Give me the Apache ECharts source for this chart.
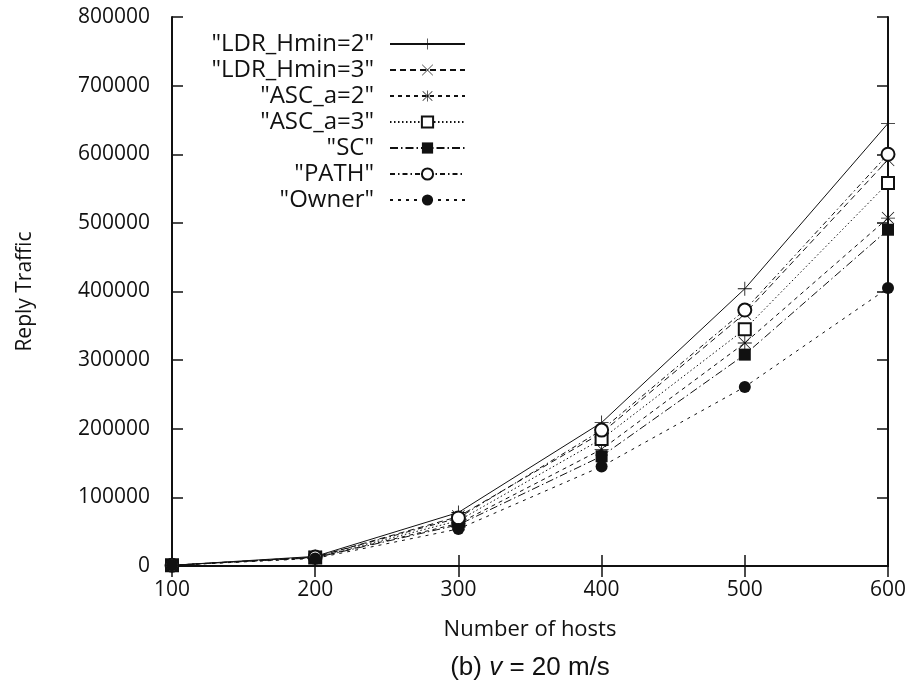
<!DOCTYPE html>
<html>
<head>
<meta charset="utf-8">
<script src="https://cdn.jsdelivr.net/npm/echarts@6/dist/echarts.min.js"></script>
<style>html,body{margin:0;padding:0;background:#fff}#c{width:911px;height:693px}</style>
</head>
<body>
<div id="c"></div>
<script>
const hosts = [100, 200, 300, 400, 500, 600];
const ldrH2 = [1000, 14000, 78000, 209000, 404000, 645000];
const ldrH3 = [1000, 13000, 72000, 194000, 368000, 592000];
const ascA2 = [1000, 12000, 62000, 170000, 325000, 507000];
const ascA3 = [1000, 12500, 66000, 185000, 345000, 558000];
const sc = [1000, 12000, 60000, 160000, 308000, 490000];
const path = [1000, 13000, 70000, 198000, 373000, 600000];
const owner = [1000, 11000, 54000, 145000, 261000, 405000];
const seriesNames = ['"LDR_Hmin=2"', '"LDR_Hmin=3"', '"ASC_a=2"', '"ASC_a=3"', '"SC"', '"PATH"', '"Owner"'];
const yTicks = [0, 100000, 200000, 300000, 400000, 500000, 600000, 700000, 800000];

const PLUS = 'path://M9.4,0 L10.6,0 L10.6,9.4 L20,9.4 L20,10.6 L10.6,10.6 L10.6,20 L9.4,20 L9.4,10.6 L0,10.6 L0,9.4 L9.4,9.4 Z';
const CROSS = 'path://M0.8,0 L10,9.2 L19.2,0 L20,0.8 L10.8,10 L20,19.2 L19.2,20 L10,10.8 L0.8,20 L0,19.2 L9.2,10 L0,0.8 Z';
const STAR = 'path://M9.4,0 L10.6,0 L10.6,9.4 L20,9.4 L20,10.6 L10.6,10.6 L10.6,20 L9.4,20 L9.4,10.6 L0,10.6 L0,9.4 L9.4,9.4 Z M1.8,1 L10,9.2 L18.2,1 L19,1.8 L10.8,10 L19,18.2 L18.2,19 L10,10.8 L1.8,19 L1,18.2 L9.2,10 L1,1.8 Z';

function mk(name, vals, symbol, size, dash, bw) {
  return {
    name: name,
    type: 'line',
    data: hosts.map((h, i) => [h, vals[i]]),
    symbol: symbol,
    symbolSize: size,
    showAllSymbol: true,
    clip: false,
    itemStyle: { color: '#111', borderColor: '#111', borderWidth: bw },
    lineStyle: { color: '#111', width: 1, type: dash },
    emphasis: { disabled: true },
    z: 3
  };
}

const chart = echarts.init(document.getElementById('c'));
const FONT = '"Open Sans", "Noto Sans", sans-serif';
chart.setOption({
  animation: false,
  backgroundColor: '#fff',
  grid: { left: 172, right: 23, top: 17, bottom: 127 },
  legend: {
    orient: 'vertical',
    align: 'right',
    right: 445,
    top: 32,
    padding: 0,
    itemWidth: 75,
    itemHeight: 14,
    itemGap: 2,
    selectedMode: false,
    textStyle: { fontFamily: FONT, fontSize: 24, color: '#111', lineHeight: 24, padding: [0, 11, 0, 0] },
    data: seriesNames
  },
  xAxis: [{
    type: 'value', min: 100, max: 600, interval: 100,
    name: 'Number of hosts', nameLocation: 'middle', nameGap: 53,
    nameTextStyle: { fontFamily: FONT, fontSize: 22, color: '#111' },
    axisLine: { lineStyle: { color: '#111', width: 2 } },
    axisTick: { inside: true, length: 11, lineStyle: { color: '#111', width: 1.5 } },
    axisLabel: { fontFamily: FONT, fontSize: 21, color: '#111', margin: 14 },
    splitLine: { show: false }
  }, {
    type: 'value', min: 100, max: 600, interval: 100, position: 'top',
    axisLine: { lineStyle: { color: '#111', width: 2 } },
    axisTick: { inside: true, length: 11, lineStyle: { color: '#111', width: 1.5 } },
    axisLabel: { show: false }, splitLine: { show: false }
  }],
  yAxis: [{
    type: 'value', min: 0, max: 800000, interval: 100000,
    name: 'Reply Traffic', nameLocation: 'middle', nameGap: 136, nameRotate: 90,
    nameTextStyle: { fontFamily: FONT, fontSize: 21, color: '#111' },
    axisLine: { show: true, lineStyle: { color: '#111', width: 2 } },
    axisTick: { show: true, inside: true, length: 11, lineStyle: { color: '#111', width: 1.5 } },
    axisLabel: { fontFamily: FONT, fontSize: 21, color: '#111', margin: 22,
      formatter: v => yTicks.includes(v) ? String(v) : '' },
    splitLine: { show: false }
  }, {
    type: 'value', min: 0, max: 800000, interval: 100000, position: 'right',
    axisLine: { show: true, lineStyle: { color: '#111', width: 2 } },
    axisTick: { show: true, inside: true, length: 11, lineStyle: { color: '#111', width: 1.5 } },
    axisLabel: { show: false }, splitLine: { show: false }
  }],
  graphic: [{
    type: 'text', x: 530, y: 668,
    style: {
      text: '(b) {i|v} = 20 m/s',
      font: '26px "Liberation Sans", Arial, sans-serif',
      fill: '#111', textAlign: 'center', textVerticalAlign: 'middle',
      rich: { i: { fontStyle: 'italic', fontSize: 26, fontFamily: '"Liberation Sans", Arial, sans-serif' } }
    }
  }],
  series: [
    mk(seriesNames[0], ldrH2, PLUS, 14, 'solid', 0),
    mk(seriesNames[1], ldrH3, CROSS, 13, [6, 4], 0),
    mk(seriesNames[2], ascA2, STAR, 14, [4, 4], 0),
    mk(seriesNames[3], ascA3, 'emptyRect', 12, [1.5, 2.5], 1),
    mk(seriesNames[4], sc, 'rect', 12, [8, 3, 1.5, 3], 0),
    mk(seriesNames[5], path, 'emptyCircle', 13, [5, 3, 1.5, 3], 1),
    mk(seriesNames[6], owner, 'circle', 12, [3, 5], 0)
  ]
});
</script>
</body>
</html>
